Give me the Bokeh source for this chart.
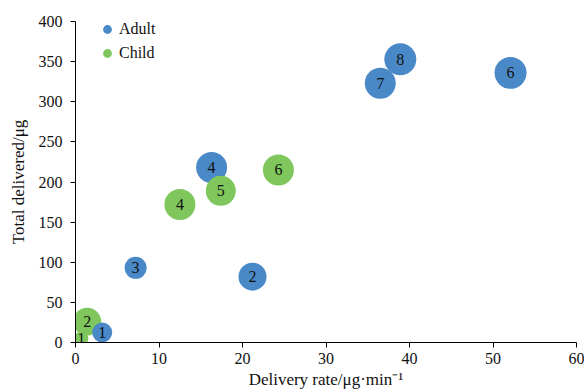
from bokeh.plotting import figure
from bokeh.models import ColumnDataSource, Legend, LegendItem, Range1d, FixedTicker
from bokeh.embed import file_html
from bokeh.resources import INLINE
from bokeh.core.properties import value

# ---- data ----
series = ["Adult", "Child"]
colors = {"Adult": "#4a89c8", "Child": "#7fc75c"}

adult_rate = [3.2, 7.2, 21.2, 16.3, 36.5, 38.9, 52.1]
adult_total = [12.5, 93, 82, 218, 323, 353, 336]
adult_n = ["1", "3", "2", "4", "7", "8", "6"]
adult_size = [20, 22, 28, 31, 31, 32, 32]

child_rate = [0.7, 1.4, 12.5, 17.4, 24.3]
child_total = [5, 26, 172, 189, 215]
child_n = ["1", "2", "4", "5", "6"]
child_size = [14, 28, 31, 30, 31]

x_ticks = [0, 10, 20, 30, 40, 50, 60]
y_ticks = [0, 50, 100, 150, 200, 250, 300, 350, 400]

FONT = "Liberation Serif"

# combined table, bigger bubbles drawn first
rows = []
for r, t, n, s in zip(adult_rate, adult_total, adult_n, adult_size):
    rows.append((r, t, n, s, colors["Adult"]))
for r, t, n, s in zip(child_rate, child_total, child_n, child_size):
    rows.append((r, t, n, s, colors["Child"]))
rows.sort(key=lambda q: -q[3])
src = ColumnDataSource(dict(
    x=[q[0] for q in rows], y=[q[1] for q in rows], n=[q[2] for q in rows],
    s=[q[3] for q in rows], c=[q[4] for q in rows]))

FH = 321
p = figure(frame_width=501, frame_height=FH, output_backend="svg",
           toolbar_location=None, min_border_left=75, min_border_right=8,
           min_border_top=21, min_border_bottom=10,
           x_range=Range1d(0, 60), y_range=Range1d(0, 400))
p.outline_line_color = None
p.grid.visible = False
p.background_fill_color = "white"

p.scatter("x", "y", size="s", fill_color="c", line_color=None, source=src)
p.text("x", "y", text="n", source=src, text_align="center", text_baseline="middle",
       text_font=value(FONT), text_font_size="16px", text_color="#111111")

# legend
items = []
for sname in series:
    r = p.scatter(x=[float("nan")], y=[float("nan")], size=12,
                  fill_color=colors[sname], line_color=None)
    items.append(LegendItem(label=sname, renderers=[r]))
leg = Legend(items=items, location=(21, FH - 48 + 4), margin=0, padding=0,
             glyph_width=22, glyph_height=24, label_height=24, spacing=0,
             label_standoff=1, border_line_color=None, background_fill_alpha=0,
             label_text_font=FONT, label_text_font_size="16px",
             label_text_color="#111111")
p.add_layout(leg)

for ax in (p.xaxis[0], p.yaxis[0]):
    ax.axis_line_color = "black"
    ax.major_tick_line_color = "black"
    ax.major_tick_out = 5
    ax.major_tick_in = 0
    ax.minor_tick_line_color = None
    ax.major_label_text_font = FONT
    ax.major_label_text_font_size = "16px"
    ax.major_label_text_color = "#111111"
    ax.axis_label_text_font = FONT
    ax.axis_label_text_font_size = "17px"
    ax.axis_label_text_font_style = "normal"
    ax.axis_label_text_color = "#111111"

p.xaxis[0].ticker = FixedTicker(ticks=x_ticks)
p.yaxis[0].ticker = FixedTicker(ticks=y_ticks)
p.xaxis[0].axis_label = "Delivery rate/μg·min⁻¹"
p.yaxis[0].axis_label = "Total delivered/μg"
p.xaxis[0].major_label_standoff = 5
p.xaxis[0].axis_label_standoff = 3
p.yaxis[0].major_label_standoff = 8
p.yaxis[0].axis_label_standoff = 8

open("out.html", "w").write(file_html(p, INLINE))
